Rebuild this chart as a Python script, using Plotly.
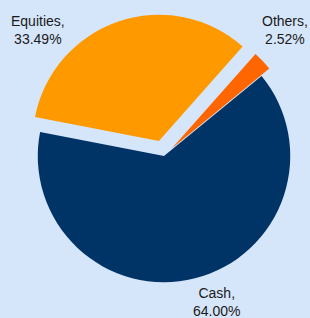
import plotly.graph_objects as go

categories = ["Equities", "Others", "Cash"]
values = [33.49, 2.52, 64.00]
colors = ["#FF9900", "#FF6600", "#003366"]
pulls = [0.125, 0.085, 0.0]

W, H = 310, 318
ML, MR, MT, MB = 18, 0, 14, 20
PW, PH = W - ML - MR, H - MT - MB

def px_to_paper(x, y):
    return (x - ML) / PW, 1 - (y - MT) / PH

fig = go.Figure(go.Pie(
    labels=categories,
    values=values,
    marker=dict(colors=colors, line=dict(width=0)),
    pull=pulls,
    sort=False,
    direction="clockwise",
    rotation=-79,
    textinfo="none",
    hoverinfo="label+percent",
    showlegend=False,
))

label_pos = {"Equities": (38, 30), "Others": (285, 30), "Cash": (217, 302)}
for cat, val in zip(categories, values):
    x, y = px_to_paper(*label_pos[cat])
    fig.add_annotation(
        x=x, y=y, xref="paper", yref="paper",
        text=f"{cat},<br>{val:.2f}%",
        showarrow=False, xanchor="center", yanchor="middle",
        font=dict(family="Liberation Sans, Arial, sans-serif", size=14, color="#1a1a1a"),
    )

fig.update_layout(
    width=W, height=H,
    margin=dict(l=ML, r=MR, t=MT, b=MB),
    paper_bgcolor="#D6E6FA",
    plot_bgcolor="#D6E6FA",
)

fig.write_html(
    "out.html",
    config={"displayModeBar": False},
    post_script="document.body.style.margin='0';document.body.style.background='#D6E6FA';",
)
